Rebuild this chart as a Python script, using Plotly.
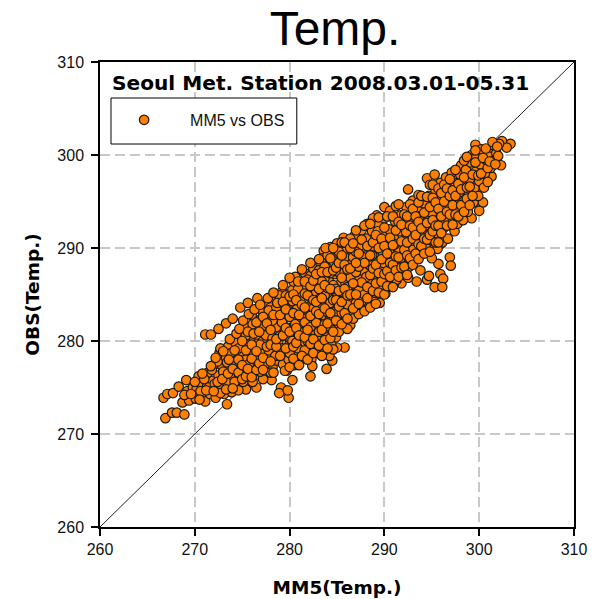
import plotly.graph_objects as go

edge_pairs = [(266.9,271.7),(267.6,272.3),(268.1,272.3),(268.9,272.1),(266.7,273.9),(267.1,274.3),(267.7,274.4),(268.3,275.1),(269.1,275.8),
(273.4,273.2),(271.1,280.7),(271.7,280.7),(272.5,281.3),(273.3,281.9),(274.0,282.4),(274.8,283.6),(275.6,284.1),(276.6,284.6),
(275.4,274.8),(276.5,275.0),(278.1,275.8),(279.1,275.0),(278.9,274.4),(279.9,273.9),(279.8,274.7),(280.3,275.8),(279.7,276.8),(282.2,276.2),(283.9,277.0),(284.5,277.9),(285.8,279.3),(285.0,279.3),(284.2,278.4),
(303.3,301.2),(302.4,301.5),(302.9,300.8),(299.6,301.1),(302.3,298.9),(301.3,297.7),(300.4,294.9),(300.0,294.0),(299.2,293.2),(297.4,291.8),(295.9,290.4),(295.1,290.4),(296.9,289.0),(297.0,288.1),(295.7,288.3),(295.9,287.2),(296.2,286.7),(293.4,286.4),(294.5,286.6),(294.7,287.0),(295.3,285.8),(296.1,285.8),(291.8,286.2),(291.0,286.1),(292.5,296.3),(294.5,297.5),(295.3,297.9),(290.0,294.4),(289.2,293.5)]

cold_pairs = [(268.7,273.4),(269.2,274.6),(269.4,273.6),(269.8,275.0),(270.1,273.8),(270.2,274.9),(270.4,276.2),(270.7,275.4),(270.9,274.1),(271.1,273.5),(271.3,275.1),(271.4,276.6),(271.6,274.3),(271.9,275.7),(272.0,277.4),(272.2,273.9),(272.3,274.9),(272.5,276.3),(272.6,278.7),(272.8,275.2),(272.9,277.3),(273.1,274.3),(273.2,276.1),(273.3,278.2),(273.5,279.4),(273.6,275.2),(273.7,277.0),(273.9,274.5),(274.0,276.0),(274.1,278.1),(274.3,279.8),(274.4,275.0),(274.5,277.2),(274.7,276.1),(274.8,278.6),(274.9,280.5),(275.1,275.6),(275.2,277.5),(275.3,279.5),(275.5,281.5),(275.6,276.5),(275.8,278.4),(275.9,280.3),(276.0,282.8),(276.1,275.6),(276.2,277.4),(276.3,279.1),(276.4,281.2),(276.6,276.4),(276.7,278.4),(276.8,280.2),(276.9,282.3),(277.0,277.3),(277.1,283.3)]

mid_pairs = [(277.2,275.9),(277.3,279.2),(277.4,281.0),(277.5,284.0),(277.6,276.8),(277.7,278.0),(277.8,280.1),(277.9,282.1),(278.0,283.6),(278.2,277.2),(278.3,279.0),(278.4,280.9),(278.5,284.6),(278.6,277.9),(278.7,282.7),(278.8,279.9),(279.0,281.6),(279.1,283.7),(279.2,285.3),(279.3,277.5),(279.4,278.7),(279.5,280.6),(279.6,282.5),(279.8,284.4),(279.9,278.0),(280.0,279.7),(280.1,281.4),(280.2,283.3),(280.3,285.5),(280.4,286.4),(280.5,277.4),(280.6,278.8),(280.7,280.5),(280.8,282.3),(280.9,284.2),(281.0,285.2),(281.1,278.0),(281.2,279.6),(281.3,281.3),(281.4,283.1),(281.5,286.0),(281.6,287.3),(281.7,278.6),(281.8,280.4),(281.9,282.2),(282.0,284.2),(282.1,285.1),(282.2,287.0),(282.3,278.0),(282.4,279.4),(282.5,281.2),(282.6,283.0),(282.7,284.9),(282.8,286.1),(282.9,288.3),(283.0,278.7),(283.1,280.3),(283.2,282.1),(283.3,283.9),(283.4,285.6),(283.5,287.3),(283.6,289.7),(283.7,279.0),(283.8,281.0),(283.9,282.9),(284.0,284.7),(284.1,286.6),(284.2,288.2),(284.3,290.1),(284.4,279.6),(284.5,280.8),(284.6,283.5),(284.7,285.4),(284.8,287.2),(284.9,289.0),(285.0,290.5),(285.1,281.6),(285.2,282.6),(285.3,284.3),(285.4,286.2),(285.5,288.0),(285.6,289.6),(285.7,291.1),(285.8,282.0),(285.9,283.4),(286.0,285.1),(286.1,287.0),(286.2,288.7),(286.3,290.4),(286.4,281.7),(286.5,284.1),(286.6,285.9),(286.7,287.8),(286.8,289.5),(286.9,291.4),(287.0,282.9),(287.1,283.0),(287.2,284.9),(287.3,286.7),(287.4,288.6),(287.5,290.3),(287.6,291.9),(287.7,283.7),(287.8,285.6),(287.9,287.4),(288.0,289.2),(288.1,291.0),(288.2,292.6),(288.3,284.1),(288.4,286.3),(288.5,288.1),(288.6,290.0),(288.7,291.8),(288.8,293.2),(288.9,284.4),(289.0,285.2),(289.1,287.1)]

warm_pairs = [(289.2,289.0),(289.3,290.7),(289.4,292.5),(289.5,284.1),(289.6,285.8),(289.7,287.8),(289.8,289.6),(289.9,291.4),(290.0,293.2),(290.1,285.1),(290.2,286.6),(290.3,288.5),(290.4,290.3),(290.5,292.0),(290.6,294.0),(290.7,285.9),(290.8,287.4),(290.9,289.2),(291.0,291.1),(291.1,292.9),(291.2,294.5),(291.3,286.6),(291.4,288.2),(291.5,290.0),(291.6,291.8),(291.7,293.5),(291.9,287.2),(292.0,289.0),(292.1,290.8),(292.2,292.5),(292.3,294.4),(292.5,286.8),(292.6,288.0),(292.7,289.7),(292.8,291.5),(292.9,293.2),(293.0,295.1),(293.2,288.7),(293.3,290.5),(293.4,292.3),(293.5,294.2),(293.6,295.7),(293.8,287.6),(293.9,289.4),(294.0,291.2),(294.1,293.0),(294.2,294.8),(294.4,290.0),(294.5,291.9),(294.6,293.6),(294.7,295.6),(294.8,296.8),(295.0,288.9),(295.1,290.8),(295.2,292.6),(295.3,294.3),(295.4,296.1),(295.6,291.5),(295.7,293.3),(295.8,295.2),(295.9,297.0),(296.1,290.6),(296.2,292.1),(296.3,294.0),(296.4,295.7),(296.5,297.6),(296.7,291.0),(296.8,292.9),(296.9,294.7),(297.0,296.4),(297.1,298.1),(297.3,293.6),(297.4,295.3),(297.5,297.0),(297.7,292.6),(297.8,294.3),(297.9,296.0),(298.0,297.9),(298.1,298.9),(298.3,293.0),(298.4,295.0),(298.5,296.7),(298.6,298.4),(298.8,293.9),(298.9,295.7),(299.0,297.4),(299.1,299.2),(299.2,300.0),(299.4,294.9),(299.5,296.4),(299.6,298.2),(299.7,299.8),(299.9,295.6),(300.0,297.2),(300.1,299.0),(300.2,300.6),(300.5,296.5),(300.6,298.0),(300.7,299.5),(300.9,297.1),(301.0,300.1),(301.2,298.6),(301.3,300.8),(301.5,299.4),(301.6,301.0),(301.8,300.2),(302.0,299.9),(302.1,301.2)]

dense_pairs = [(275.0,278.9),(276.0,277.0),(277.2,280.2),(278.1,278.4),(278.6,281.5),(279.4,283.0),(280.1,280.2),(280.8,283.5),(281.5,281.0),(282.1,283.3),(282.6,285.8),(283.2,281.2),(283.7,286.8),(284.2,282.2),(284.8,284.6),(285.3,287.3),(285.9,286.2),(286.4,289.0),(287.0,286.0),(287.5,288.3),(288.1,286.9),(288.7,289.2),(289.3,291.8),(289.9,288.4),(290.5,289.6),(291.1,290.4),(291.7,288.9),(292.3,291.7),(293.0,289.8),(293.7,293.4),(294.3,292.4),(295.0,293.7),(295.6,289.9),(296.3,293.0),(297.0,295.5)]

fill_low_pairs = [(270.6,274.6),(271.0,275.9),(271.5,275.0),(271.8,276.9),(272.1,275.4),(272.4,277.8),(272.7,274.4),(273.0,276.7),(273.4,275.5),(273.4,277.7),(273.8,278.7),(274.2,275.6),(274.2,277.6),(274.6,279.2),(274.6,274.7),(275.0,276.7),(275.4,278.0),(275.4,280.6),(275.7,277.5),(275.7,279.6),(276.1,278.8),(276.1,281.8),(276.5,277.9),(276.5,280.7),(276.9,276.7),(276.9,279.6),(277.1,278.6),(277.1,281.6),(277.4,277.5),(277.5,280.6),(277.5,282.6),(277.8,279.0),(277.8,283.3),(278.0,276.6),(278.2,280.3),(278.2,282.2),(278.5,278.4),(278.6,283.6),(278.9,280.5),(278.9,284.9),(279.2,279.2),(279.2,282.0),(279.5,276.8),(279.6,284.9),(279.7,281.4),(279.7,283.5),(280.0,278.7),(280.0,282.6),(280.3,280.0),(280.3,284.3),(280.6,281.8),(280.6,286.9),(280.9,279.2),(280.9,285.6),(281.2,280.9),(281.2,282.6),(281.2,284.7),(281.6,279.0),(281.6,282.0),(281.6,285.1),(281.9,280.0),(281.9,283.6),(281.9,286.6),(282.2,281.5),(282.2,284.7),(282.4,277.3),(282.5,283.5),(282.5,287.8),(282.8,279.7),(282.8,282.0),(282.8,285.3),(283.1,281.0),(283.1,284.5),(283.1,287.6),(283.4,279.6),(283.4,282.8),(283.4,286.4),(283.4,288.9),(283.7,281.8),(283.7,284.9),(283.7,288.0)]

fill_mid_pairs = [(284.0,280.4),(284.0,283.1),(284.0,285.7),(284.0,289.2),(284.3,281.5),(284.3,284.1),(284.3,287.3),(284.6,279.1),(284.6,282.2),(284.6,286.0),(284.6,288.6),(284.9,280.4),(284.9,283.2),(284.9,285.6),(285.2,281.0),(285.2,287.4),(285.2,289.6),(285.5,283.0),(285.5,285.3),(285.5,290.6),(285.8,284.4),(285.8,287.4),(285.8,289.0),(286.1,281.3),(286.1,283.9),(286.1,285.8),(286.1,290.6),(286.4,283.0),(286.4,286.8),(286.4,288.2),(286.4,291.0),(286.7,282.4),(286.7,285.0),(286.7,289.0),(287.0,284.1),(287.0,287.4),(287.0,289.6),(287.0,291.9),(287.3,282.9),(287.3,285.4),(287.3,288.0),(287.6,284.3),(287.6,286.3),(287.6,289.1),(287.6,290.9),(287.9,283.2),(287.9,285.0),(287.9,288.4),(287.9,292.4),(288.2,284.6),(288.2,285.8),(288.2,290.2),(288.5,283.6),(288.5,287.1),(288.5,289.2),(288.5,292.6),(288.8,285.4),(288.8,287.8),(288.8,290.6),(289.1,284.0),(289.1,286.2),(289.1,288.2),(289.1,291.4),(289.4,285.2),(289.4,287.3),(289.4,290.0),(289.4,293.3),(289.7,286.4),(289.7,288.8),(289.7,291.0),(290.0,285.0),(290.0,287.2),(290.0,290.2),(290.0,292.2),(290.3,285.9),(290.3,287.5),(290.3,289.4),(290.3,293.4),(290.6,286.9),(290.6,288.4),(290.6,291.1),(290.9,285.8),(290.9,288.2),(290.9,290.3),(290.9,293.4),(291.2,287.6),(291.2,289.1),(291.2,291.9),(291.5,286.9),(291.5,289.0),(291.5,292.8),(291.5,294.7),(291.8,287.9),(291.8,290.7),(291.8,292.5),(292.1,288.0),(292.1,289.8),(292.1,293.6),(292.4,287.1),(292.4,289.2),(292.4,290.6),(292.4,293.4),(292.7,288.9),(292.7,292.4),(292.7,294.7)]

fill_warm_pairs = [(293.0,288.2),(293.0,291.0),(293.0,292.2),(293.0,294.2),(293.3,289.4),(293.3,291.4),(293.3,293.4),(293.6,288.8),(293.6,290.4),(293.6,292.8),(293.6,294.9),(293.9,290.2),(293.9,292.1),(293.9,295.6),(294.2,289.4),(294.2,291.0),(294.2,293.8),(294.5,290.9),(294.5,292.7),(294.5,295.5),(294.8,289.6),(294.8,291.4),(294.8,294.4),(295.1,291.8),(295.1,293.0),(295.1,295.4),(295.1,296.8),(295.4,290.6),(295.4,292.4),(295.4,294.9),(295.7,290.6),(295.7,292.4),(295.7,294.2),(295.7,296.4),(296.0,291.6),(296.0,293.4),(296.0,295.9),(296.3,295.0),(296.3,296.8),(296.6,292.4),(296.6,293.9),(296.6,296.4),(296.9,293.6),(296.9,295.6),(296.9,297.4),(297.2,292.5),(297.2,294.6),(297.2,296.2),(297.5,293.6),(297.5,295.6),(297.5,298.4),(297.8,293.4),(297.8,296.9),(298.1,294.6),(298.1,296.3),(298.4,293.9),(298.4,297.6),(298.4,299.4),(298.7,295.3),(298.7,296.5),(298.7,299.8),(299.0,294.6),(299.0,296.6),(299.3,295.6),(299.3,297.9),(299.6,299.2),(299.6,300.5),(299.9,297.8),(300.2,298.0),(300.4,299.7),(300.7,300.7),(300.9,298.6),(301.1,299.3),(301.4,301.4),(301.7,299.0),(301.9,300.9)]

extra_cold_pairs = [(268.9,274.2),(269.6,274.3),(270.0,275.6),(270.5,273.7),(270.8,276.5),(271.2,274.7),(271.7,277.3),(272.0,274.6),(272.2,278.2),(272.4,275.6),(272.7,279.2),(272.9,275.9),(273.0,278.9),(273.3,274.8),(273.5,276.5),(273.6,278.0),(273.7,280.2),(274.0,274.9),(274.0,277.0),(274.2,279.0),(274.4,280.8),(274.6,276.6),(274.6,278.0),(274.7,281.3),(275.0,275.9),(275.0,277.4),(275.0,280.0),(275.1,282.2),(275.4,276.2),(275.4,279.0),(275.6,277.0),(275.6,281.0),(275.7,282.9),(276.0,276.1),(276.0,278.1),(276.0,279.6),(276.2,280.8),(276.3,283.4),(276.5,276.9),(276.5,278.9),(276.5,282.0),(276.8,277.6),(276.8,281.0),(276.9,283.9),(277.2,276.9),(277.2,278.2),(277.2,282.6),(277.6,279.4),(277.6,281.9),(277.7,284.6),(278.0,277.8),(278.0,279.6),(278.0,281.2),(278.3,276.6),(278.3,282.8),(278.3,285.2),(278.6,279.4),(278.6,280.2),(278.7,284.1),(279.0,278.4),(279.0,282.8),(279.3,280.6),(279.3,284.2),(279.3,286.0),(279.6,279.2),(279.6,281.4),(279.6,283.4),(280.0,277.2),(280.0,281.0),(280.0,284.8),(280.0,286.8)]

extra_mid_pairs = [(280.4,278.1),(280.4,279.4),(280.4,283.0),(280.4,285.0),(280.7,279.8),(280.7,281.4),(280.7,284.4),(280.9,286.4),(281.0,277.4),(281.0,280.6),(281.0,282.8),(281.3,278.4),(281.3,283.9),(281.3,287.7),(281.6,280.4),(281.6,283.6),(281.6,286.4),(281.9,278.0),(281.9,281.2),(281.9,284.9),(282.2,279.7),(282.2,282.7),(282.2,285.9),(282.2,288.4),(282.5,278.7),(282.5,280.2),(282.5,284.4),(282.5,286.5),(282.8,283.2),(282.8,284.2),(282.8,287.2),(283.1,279.5),(283.1,282.9),(283.1,285.6),(283.1,288.8),(283.4,278.4),(283.4,281.2),(283.4,284.6),(283.4,287.4),(283.7,280.1),(283.7,283.5),(283.7,286.0),(283.8,290.0),(284.0,279.2),(284.0,281.9),(284.0,287.4),(284.3,280.3),(284.3,283.0),(284.3,285.6),(284.3,288.9),(284.6,281.0),(284.6,284.4),(284.6,287.6),(284.6,290.0),(284.9,282.2),(284.9,284.4),(284.9,287.9),(285.2,283.7),(285.2,285.4),(285.2,288.4),(285.5,281.8),(285.5,284.2),(285.5,286.8),(285.5,289.2),(285.8,283.0),(285.8,285.6),(285.8,288.2),(285.8,290.6),(286.1,282.4),(286.1,284.9),(286.1,287.7),(286.4,285.0),(286.4,287.8),(286.4,290.0),(286.7,283.5),(286.7,286.2),(286.7,290.5),(287.0,285.0),(287.0,288.4),(287.3,284.0),(287.3,289.4)]

all_pairs = edge_pairs + cold_pairs + mid_pairs + warm_pairs + dense_pairs + fill_low_pairs + fill_mid_pairs + fill_warm_pairs + extra_cold_pairs + extra_mid_pairs
mm5 = [p[0] for p in all_pairs]
obs = [p[1] for p in all_pairs]
diag = [260, 310]
ticks = [260, 270, 280, 290, 300, 310]

fig = go.Figure()
fig.add_trace(go.Scatter(x=diag, y=diag, mode="lines", line=dict(color="#222", width=1), showlegend=False, hoverinfo="skip"))
fig.add_trace(go.Scatter(x=mm5, y=obs, mode="markers", name="MM5 vs OBS",
    marker=dict(size=9.5, color="#ff8000", line=dict(color="#1a1a1a", width=1.2))))

def axis(title, standoff, label_gap):
    return dict(range=[260, 310], tickvals=ticks, ticks="outside", ticklen=7, tickwidth=1.5, tickcolor="black",
        linecolor="black", linewidth=1.5, mirror=True, showgrid=True, gridcolor="#c8c8c8", gridwidth=1.5, griddash="10px,5px",
        zeroline=False, ticklabelstandoff=label_gap, tickfont=dict(family="Liberation Sans", size=16, color="#111"),
        title=dict(text=title, standoff=standoff, font=dict(family="DejaVu Sans", size=18.5, color="black", weight="bold")))

PLOT_W = 474.5
PLOT_H = 465
fig.update_layout(width=602, height=599, margin=dict(l=100, r=27.5, t=62, b=72, autoexpand=False),
    plot_bgcolor="white", paper_bgcolor="white", xaxis=axis("MM5(Temp.)", 24, 0), yaxis=axis("OBS(Temp.)", 13, 4),
    title=dict(text="Temp.", x=335/602, xanchor="center", y=1-28/599, yanchor="middle", font=dict(family="Liberation Sans", size=48, color="black")),
    legend=dict(x=-0.004, y=0.912, xanchor="left", yanchor="top", bgcolor="rgba(0,0,0,0)", borderwidth=0,
        font=dict(family="Liberation Sans", size=16, color="#111"), itemwidth=82),
    shapes=[dict(type="rect", xref="paper", yref="paper", x0=11/PLOT_W, x1=197/PLOT_W, y0=383/PLOT_H, y1=429/PLOT_H,
        line=dict(color="black", width=1), fillcolor="white", layer="above", opacity=1)],
    annotations=[dict(text="<b>Seoul Met. Station 2008.03.01-05.31</b>", xref="paper", yref="paper", x=10/PLOT_W, y=444/PLOT_H,
        xanchor="left", yanchor="middle", showarrow=False, font=dict(family="DejaVu Sans", size=20.15, color="black"))])
fig.write_html("out.html", config={"displayModeBar": False}, post_script="document.body.style.margin='0';document.body.style.overflow='hidden';")
